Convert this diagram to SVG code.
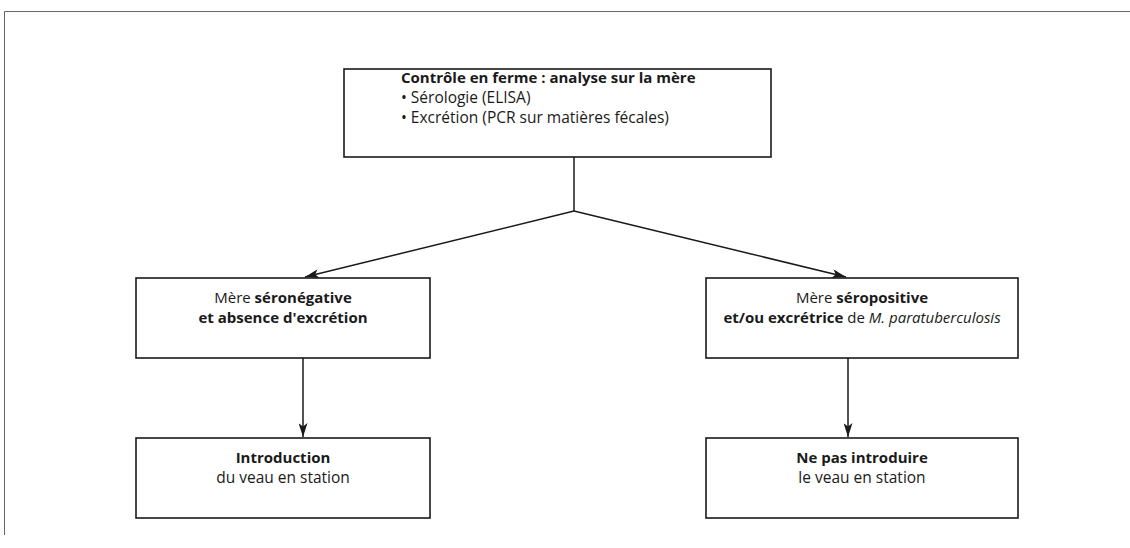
<svg xmlns="http://www.w3.org/2000/svg" width="1130" height="548" viewBox="0 0 1130 548">
<style>
.box{fill:#fff;stroke:#1a1a1a;stroke-width:1.6}
.frame{fill:none;stroke:#666;stroke-width:1}
.conn{fill:none;stroke:#1a1a1a;stroke-width:1.5}
text{font-family:"Open Sans","Noto Sans",sans-serif;font-size:15px;fill:#1a1a1a}
.b{font-weight:bold}
.c{text-anchor:middle}
.r{font-size:15.5px}
</style>
<defs>
<marker id="ah" viewBox="0 0 14 9" refX="14" refY="4.5" markerWidth="14" markerHeight="9" markerUnits="userSpaceOnUse" orient="auto">
<path d="M0,0 L14,4.5 L0,9 L3.5,4.5 Z" fill="#1a1a1a"/>
</marker>
</defs>
<path class="frame" d="M1130,11.5 H4.5 V535"/>
<g id="connectors">
<path class="conn" d="M574,157 V211"/>
<path class="conn" d="M574,211 L305,277" marker-end="url(#ah)"/>
<path class="conn" d="M574,211 L846,277" marker-end="url(#ah)"/>
<path class="conn" d="M303,358 V437" marker-end="url(#ah)"/>
<path class="conn" d="M848,358 V437" marker-end="url(#ah)"/>
</g>
<g id="top">
<rect class="box" x="344" y="69" width="427" height="88"/>
<text x="401" y="83" class="b">Contrôle en ferme : analyse sur la mère</text>
<text x="401" y="103" class="r">• Sérologie (ELISA)</text>
<text x="401" y="123" class="r">• Excrétion (PCR sur matières fécales)</text>
</g>
<g id="left-mid">
<rect class="box" x="136" y="278" width="294" height="80"/>
<text x="283" y="303" class="c">Mère <tspan class="b">séronégative</tspan></text>
<text x="283" y="323" class="c b">et absence d'excrétion</text>
</g>
<g id="right-mid">
<rect class="box" x="706" y="278" width="312" height="80"/>
<text x="862" y="303" class="c">Mère <tspan class="b">séropositive</tspan></text>
<text x="862" y="323" class="c"><tspan class="b">et/ou excrétrice</tspan> de <tspan font-style="italic">M. paratuberculosis</tspan></text>
</g>
<g id="left-bot">
<rect class="box" x="136" y="438" width="294" height="80"/>
<text x="283" y="463" class="c b">Introduction</text>
<text x="283" y="483" class="c r">du veau en station</text>
</g>
<g id="right-bot">
<rect class="box" x="706" y="438" width="312" height="80"/>
<text x="862" y="463" class="c b">Ne pas introduire</text>
<text x="862" y="483" class="c r">le veau en station</text>
</g>
</svg>
